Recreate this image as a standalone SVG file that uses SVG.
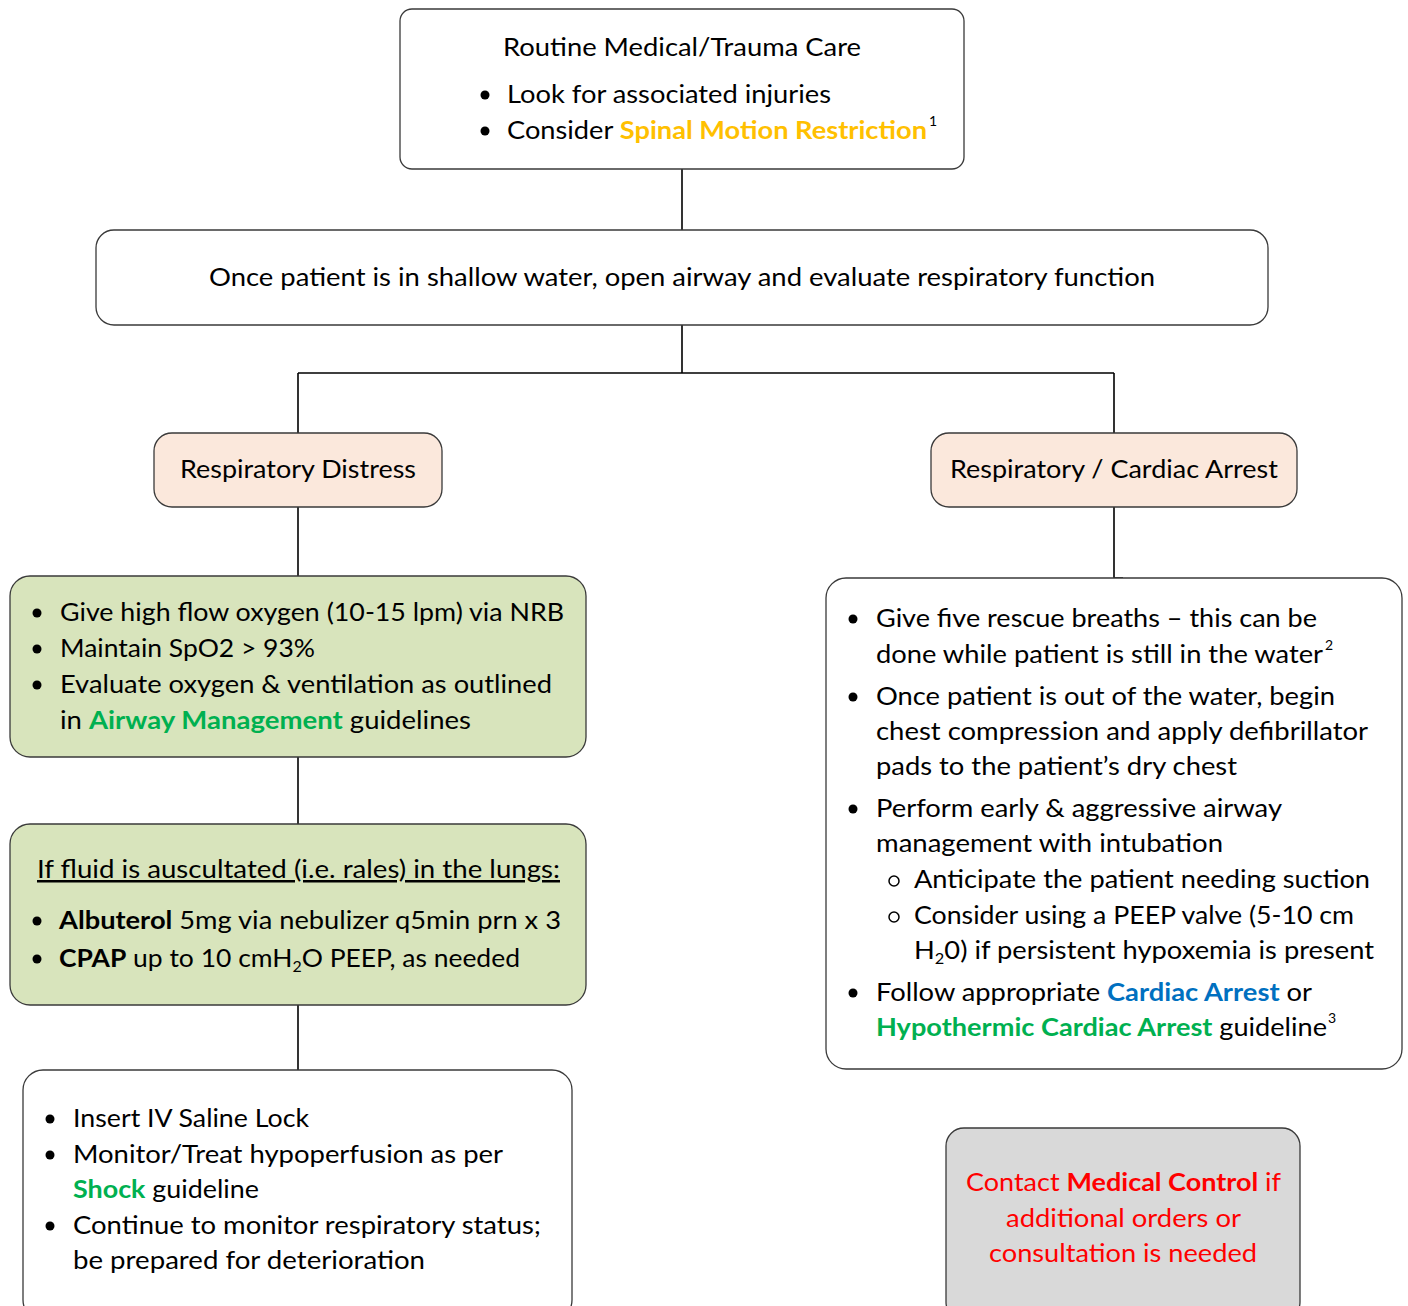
<svg xmlns="http://www.w3.org/2000/svg" width="1408" height="1306" viewBox="0 0 1408 1306">
  <style>
    .box { stroke: #3a3a3a; stroke-width: 1.3; }
    .white { fill: #ffffff; }
    .peach { fill: #fbe8dc; }
    .green { fill: #d8e4bc; }
    .gray { fill: #d9d9d9; }
    .t { font-family: Lato, "Open Sans", "Liberation Sans", sans-serif; font-size: 25px; fill: #000000; }
    .sup { font-family: Lato, "Open Sans", "Liberation Sans", sans-serif; font-size: 14px; fill: #000000; }
    .b { font-weight: bold; }
    .orange { fill: #ffc000; font-weight: bold; }
    .lg { fill: #00b050; font-weight: bold; }
    .blue { fill: #0070c0; font-weight: bold; }
    .red { fill: #ff0000; }
    .dot { fill: #000000; }
    .ring { fill: none; stroke: #000000; stroke-width: 1.5; }
    .conn { stroke: #000000; stroke-width: 1.6; fill: none; }
  </style>

  <!-- connectors -->
  <g id="connectors">
    <path class="conn" d="M682 169 V230"/>
    <path class="conn" d="M682 325 V373 M298 373 H1114 M298 373 V433 M1114 373 V433"/>
    <path class="conn" d="M298 507 V576"/>
    <path class="conn" d="M1114 507 V578 H1123"/>
    <path class="conn" d="M298 757 V824"/>
    <path class="conn" d="M298 1005 V1070"/>
  </g>

  <!-- top: routine care -->
  <g id="routine-care">
    <rect class="box white" x="400" y="9" width="564" height="160" rx="12"/>
    <text class="t" x="503" y="56" textLength="358" lengthAdjust="spacingAndGlyphs">Routine Medical/Trauma Care</text>
    <circle class="dot" cx="485" cy="95" r="4.5"/>
    <text class="t" x="507" y="103" textLength="324" lengthAdjust="spacingAndGlyphs">Look for associated injuries</text>
    <circle class="dot" cx="485" cy="131" r="4.5"/>
    <text class="t" x="507" y="139" textLength="420" lengthAdjust="spacingAndGlyphs">Consider <tspan class="orange">Spinal Motion Restriction</tspan></text>
    <text class="sup" x="929" y="126">1</text>
  </g>

  <!-- shallow water / airway -->
  <g id="open-airway">
    <rect class="box white" x="96" y="230" width="1172" height="95" rx="18"/>
    <text class="t" x="209" y="286" textLength="946" lengthAdjust="spacingAndGlyphs">Once patient is in shallow water, open airway and evaluate respiratory function</text>
  </g>

  <!-- branch headers -->
  <g id="respiratory-distress">
    <rect class="box peach" x="154" y="433" width="288" height="74" rx="18"/>
    <text class="t" x="180" y="478" textLength="236" lengthAdjust="spacingAndGlyphs">Respiratory Distress</text>
  </g>
  <g id="cardiac-arrest">
    <rect class="box peach" x="931" y="433" width="366" height="74" rx="18"/>
    <text class="t" x="950" y="478" textLength="328" lengthAdjust="spacingAndGlyphs">Respiratory / Cardiac Arrest</text>
  </g>

  <!-- oxygen -->
  <g id="oxygen">
    <rect class="box green" x="10" y="576" width="576" height="181" rx="20"/>
    <circle class="dot" cx="37" cy="613" r="4.5"/>
    <text class="t" x="60" y="621" textLength="504" lengthAdjust="spacingAndGlyphs">Give high flow oxygen (10-15 lpm) via NRB</text>
    <circle class="dot" cx="37" cy="649" r="4.5"/>
    <text class="t" x="60" y="657" textLength="255" lengthAdjust="spacingAndGlyphs">Maintain SpO2 &gt; 93%</text>
    <circle class="dot" cx="37" cy="685" r="4.5"/>
    <text class="t" x="60" y="693" textLength="492" lengthAdjust="spacingAndGlyphs">Evaluate oxygen &amp; ventilation as outlined</text>
    <text class="t" x="60" y="729" textLength="411" lengthAdjust="spacingAndGlyphs">in <tspan class="lg">Airway Management</tspan> guidelines</text>
  </g>

  <!-- fluid in lungs -->
  <g id="fluid-lungs">
    <rect class="box green" x="10" y="824" width="576" height="181" rx="20"/>
    <text class="t" x="37" y="878" textLength="523" lengthAdjust="spacingAndGlyphs" text-decoration="underline">If fluid is auscultated (i.e. rales) in the lungs:</text>
    <circle class="dot" cx="37" cy="921" r="4.5"/>
    <text class="t" x="59" y="929" textLength="502" lengthAdjust="spacingAndGlyphs"><tspan class="b">Albuterol</tspan> 5mg via nebulizer q5min prn x 3</text>
    <circle class="dot" cx="37" cy="959" r="4.5"/>
    <text class="t" x="59" y="967" textLength="461" lengthAdjust="spacingAndGlyphs"><tspan class="b">CPAP</tspan> up to 10 cmH<tspan font-size="15" dy="5">2</tspan><tspan dy="-5">O PEEP, as needed</tspan></text>
  </g>

  <!-- IV / shock -->
  <g id="iv-monitor">
    <rect class="box white" x="23" y="1070" width="549" height="250" rx="20"/>
    <circle class="dot" cx="50" cy="1119" r="4.5"/>
    <text class="t" x="73" y="1127" textLength="236" lengthAdjust="spacingAndGlyphs">Insert IV Saline Lock</text>
    <circle class="dot" cx="50" cy="1155" r="4.5"/>
    <text class="t" x="73" y="1163" textLength="430" lengthAdjust="spacingAndGlyphs">Monitor/Treat hypoperfusion as per</text>
    <text class="t" x="73" y="1198" textLength="186" lengthAdjust="spacingAndGlyphs"><tspan class="lg">Shock</tspan> guideline</text>
    <circle class="dot" cx="50" cy="1226" r="4.5"/>
    <text class="t" x="73" y="1234" textLength="468" lengthAdjust="spacingAndGlyphs">Continue to monitor respiratory status;</text>
    <text class="t" x="73" y="1269" textLength="352" lengthAdjust="spacingAndGlyphs">be prepared for deterioration</text>
  </g>

  <!-- arrest actions -->
  <g id="arrest-actions">
    <rect class="box white" x="826" y="578" width="576" height="491" rx="20"/>
    <circle class="dot" cx="853" cy="619" r="4.5"/>
    <text class="t" x="876" y="627" textLength="441" lengthAdjust="spacingAndGlyphs">Give five rescue breaths – this can be</text>
    <text class="t" x="876" y="663" textLength="447" lengthAdjust="spacingAndGlyphs">done while patient is still in the water</text>
    <text class="sup" x="1325" y="650">2</text>
    <circle class="dot" cx="853" cy="697" r="4.5"/>
    <text class="t" x="876" y="705" textLength="459" lengthAdjust="spacingAndGlyphs">Once patient is out of the water, begin</text>
    <text class="t" x="876" y="740" textLength="492" lengthAdjust="spacingAndGlyphs">chest compression and apply defibrillator</text>
    <text class="t" x="876" y="775" textLength="361" lengthAdjust="spacingAndGlyphs">pads to the patient’s dry chest</text>
    <circle class="dot" cx="853" cy="809" r="4.5"/>
    <text class="t" x="876" y="817" textLength="406" lengthAdjust="spacingAndGlyphs">Perform early &amp; aggressive airway</text>
    <text class="t" x="876" y="852" textLength="347" lengthAdjust="spacingAndGlyphs">management with intubation</text>
    <circle class="ring" cx="894" cy="881" r="5"/>
    <text class="t" x="914" y="888" textLength="456" lengthAdjust="spacingAndGlyphs">Anticipate the patient needing suction</text>
    <circle class="ring" cx="894" cy="917" r="5"/>
    <text class="t" x="914" y="924" textLength="440" lengthAdjust="spacingAndGlyphs">Consider using a PEEP valve (5-10 cm</text>
    <text class="t" x="914" y="959" textLength="460" lengthAdjust="spacingAndGlyphs">H<tspan font-size="15" dy="5">2</tspan><tspan dy="-5">0) if persistent hypoxemia is present</tspan></text>
    <circle class="dot" cx="853" cy="993" r="4.5"/>
    <text class="t" x="876" y="1001" textLength="436" lengthAdjust="spacingAndGlyphs">Follow appropriate <tspan class="blue">Cardiac Arrest</tspan> or</text>
    <text class="t" x="876" y="1036" textLength="451" lengthAdjust="spacingAndGlyphs"><tspan class="lg">Hypothermic Cardiac Arrest</tspan> guideline</text>
    <text class="sup" x="1328" y="1023">3</text>
  </g>

  <!-- medical control -->
  <g id="medical-control">
    <rect class="box gray" x="946" y="1128" width="354" height="192" rx="18"/>
    <text class="t red" x="966" y="1191" textLength="315" lengthAdjust="spacingAndGlyphs">Contact <tspan class="b">Medical Control</tspan> if</text>
    <text class="t red" x="1006" y="1227" textLength="235" lengthAdjust="spacingAndGlyphs">additional orders or</text>
    <text class="t red" x="989" y="1262" textLength="268" lengthAdjust="spacingAndGlyphs">consultation is needed</text>
  </g>
</svg>
